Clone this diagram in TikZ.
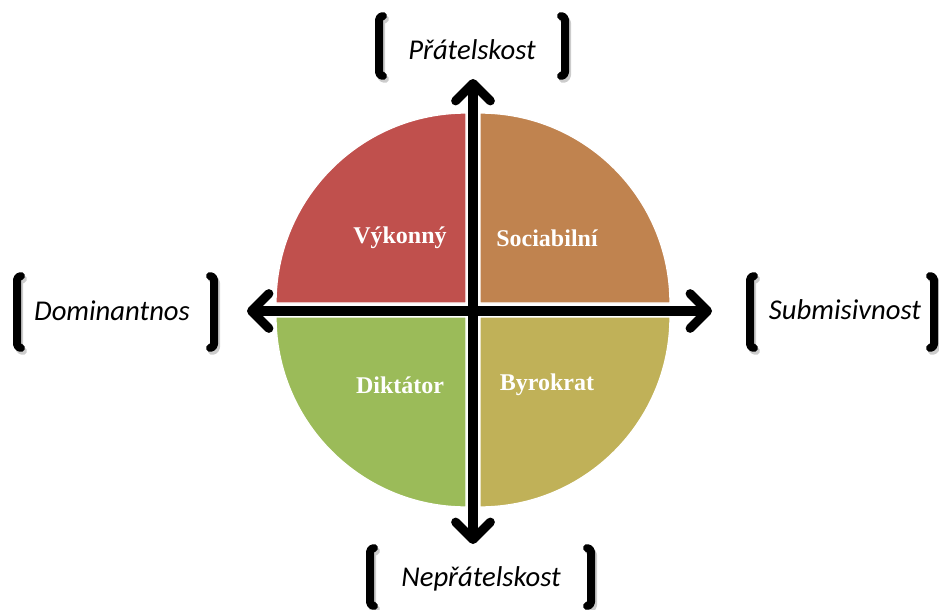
\documentclass[tikz,border=0pt]{standalone}
\usepackage{fontspec}
\newfontfamily\axisfont{Carlito}
\newfontfamily\quadfont{Liberation Serif}
\usetikzlibrary{arrows.meta}

\definecolor{qred}{HTML}{C0504D}
\definecolor{qorange}{HTML}{C0834F}
\definecolor{qgreen}{HTML}{9BBB59}
\definecolor{qolive}{HTML}{C0B158}

\tikzset{
  quad/.style={draw=white, line width=1pt},
  quadlabel/.style={text=white, font=\quadfont\bfseries\fontsize{18}{20}\selectfont},
  axislabel/.style={font=\axisfont\itshape\fontsize{21.5}{24}\selectfont},
  brak/.style={line width=6pt, rounded corners=3pt, line cap=round, line join=round},
  brakshadow/.style={brak, draw=black!20},
  axis/.style={line width=6.8pt, line cap=round,
    -{Straight Barb[length=13pt, width=26pt, line cap=round, line join=round]}},
}

% bracket pair: left x, right x, top y, bottom y
\newcommand{\brakpair}[4]{%
  \draw[brakshadow] (#1+6,#3+3) -- (#1+2,#3+3) -- (#1+2,#4+3) -- (#1+6,#4+3);
  \draw[brakshadow] (#2-2,#3+3) -- (#2+2,#3+3) -- (#2+2,#4+3) -- (#2-2,#4+3);
  \draw[brak] (#1+4,#3) -- (#1,#3) -- (#1,#4) -- (#1+4,#4);
  \draw[brak] (#2-4,#3) -- (#2,#3) -- (#2,#4) -- (#2-4,#4);
}

\begin{document}
\begin{tikzpicture}[x=0.75pt, y=-0.75pt]
\useasboundingbox (0,0) rectangle (939,610);

% four quarter-circle sectors
\fill[qred]    (466,303) -- ++(-190,0) arc[start angle=180, end angle=90, radius=142.5pt] -- cycle;
\fill[qorange] (480,303) -- ++(0,-190) arc[start angle=90, end angle=0, radius=142.5pt] -- cycle;
\fill[qgreen]  (466,317) -- ++(-190,0) arc[start angle=180, end angle=270, radius=142.5pt] -- cycle;
\fill[qolive]  (480,317) -- ++(0,190) arc[start angle=270, end angle=360, radius=142.5pt] -- cycle;
\draw[quad] (466,303) -- ++(-190,0) arc[start angle=180, end angle=90, radius=142.5pt] -- cycle;
\draw[quad] (480,303) -- ++(0,-190) arc[start angle=90, end angle=0, radius=142.5pt] -- cycle;
\draw[quad] (466,317) -- ++(-190,0) arc[start angle=180, end angle=270, radius=142.5pt] -- cycle;
\draw[quad] (480,317) -- ++(0,190) arc[start angle=270, end angle=360, radius=142.5pt] -- cycle;

\node[quadlabel] (vyk) at (400,238) {Výkonný};
\node[quadlabel] (soc) at (547,238) {Sociabilní};
\node[quadlabel] (dik) at (400,385) {Diktátor};
\node[quadlabel] (byr) at (547,385) {Byrokrat};

% axes
\coordinate (ctr) at (473,311);
\coordinate (up) at (473,79);
\coordinate (down) at (473,544);
\coordinate (left) at (247,311);
\coordinate (right) at (712,311);
\draw[axis] (ctr) -- (up);
\draw[axis] (ctr) -- (down);
\draw[axis] (ctr) -- (left);
\draw[axis] (ctr) -- (right);

% axis labels with brackets
\brakpair{379}{565}{16}{76}
\node[axislabel] (friend) at (472,50) {Přátelskost};

\brakpair{17}{214}{276}{348}
\node[axislabel] (dom) at (112,311) {Dominantnos};

\brakpair{750}{934}{276}{348}
\node[axislabel] (sub) at (845,310) {Submisivnost};

\brakpair{370}{591}{548}{606}
\node[axislabel] (enemy) at (481,579) {Nepřátelskost};
\end{tikzpicture}
\end{document}
